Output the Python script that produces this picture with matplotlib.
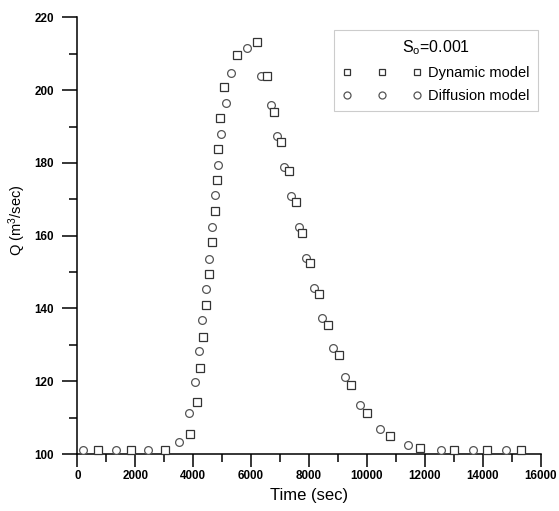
import matplotlib
matplotlib.use("Agg")
import matplotlib.pyplot as plt
from matplotlib.ticker import MultipleLocator

plt.rcParams['font.family'] = ['Liberation Sans', 'DejaVu Sans']
plt.rcParams['mathtext.default'] = 'regular'

# Dynamic wave model hydrograph
dyn_t = [703, 1841, 3014, 3903, 4145, 4248, 4324, 4438, 4541, 4662, 4738, 4828,
         4862, 4931, 5048, 5497, 6207, 6541, 6793, 7048, 7300, 7541, 7772, 8048,
         8334, 8655, 9024, 9448, 10014, 10783, 11841, 13000, 14152, 15310]
dyn_q = [101.1, 101.1, 101.0, 105.5, 114.2, 123.7, 132.3, 140.9, 149.5, 158.3,
         166.7, 175.2, 183.9, 192.3, 200.9, 209.8, 213.3, 203.8, 194.1, 185.8,
         177.8, 169.4, 160.7, 152.4, 144.0, 135.5, 127.2, 119.1, 111.4, 105.0,
         101.7, 101.0, 101.0, 101.0]

# Diffusion wave model hydrograph
dif_t = [186, 1324, 2455, 3507, 3862, 4059, 4197, 4310, 4428, 4541, 4634, 4748,
         4862, 4966, 5117, 5324, 5862, 6335, 6679, 6897, 7138, 7369, 7645, 7886,
         8162, 8462, 8828, 9255, 9759, 10448, 11414, 12541, 13679, 14807]
dif_q = [101.1, 101.1, 101.1, 103.4, 111.4, 119.8, 128.3, 136.8, 145.3, 153.7,
         162.4, 171.1, 179.5, 187.9, 196.5, 204.8, 211.5, 203.8, 195.9, 187.3,
         178.9, 170.8, 162.4, 153.9, 145.7, 137.3, 129.2, 121.2, 113.6, 106.9,
         102.6, 101.1, 101.1, 101.1]

x_ticks = [0, 2000, 4000, 6000, 8000, 10000, 12000, 14000, 16000]
y_ticks = [100, 120, 140, 160, 180, 200, 220]

fig = plt.figure(figsize=(5.59, 5.11), dpi=100)
ax = fig.add_axes([77.3 / 559, 57 / 511, 463.4 / 559, 436.5 / 511])

ax.plot(dif_t, dif_q, linestyle='none', marker='o', ms=5.6, mfc='white',
        mec='#555555', mew=0.9, label='Diffusion model', zorder=3, clip_on=False)
ax.plot(dyn_t, dyn_q, linestyle='none', marker='s', ms=5.3, mfc='white',
        mec='#333333', mew=0.9, label='Dynamic model', zorder=4, clip_on=False)

ax.set_xlim(0, 16000)
ax.set_ylim(100, 220)
ax.set_xticks(x_ticks)
ax.set_yticks(y_ticks)
ax.xaxis.set_minor_locator(MultipleLocator(1000))
ax.yaxis.set_minor_locator(MultipleLocator(10))

for s in ('top', 'right'):
    ax.spines[s].set_visible(False)
for s in ('left', 'bottom'):
    ax.spines[s].set_linewidth(1.1)

ax.tick_params(axis='both', which='major', direction='out', width=1.1,
               labelsize=8.4, colors='black')
ax.tick_params(axis='x', which='major', length=9.5, pad=2)
ax.tick_params(axis='y', which='major', length=11, pad=6)
ax.tick_params(axis='both', which='minor', direction='out', width=1.1, length=6)
for lab in ax.get_xticklabels() + ax.get_yticklabels():
    lab.set_fontweight('bold')

ax.set_xlabel('Time (sec)', fontsize=12)
ax.xaxis.set_label_coords(0.5, -(488 - 454) / 436.5)
ax.set_ylabel('Q (m$^3$/sec)', fontsize=10.5)
ax.yaxis.set_label_coords(-(77.3 - 28) / 463.4, (454 - 220) / 436.5)

handles, labels = ax.get_legend_handles_labels()
leg = ax.legend(handles[::-1], labels[::-1], title='S$_o$=0.001',
                loc='upper right', bbox_to_anchor=(0.994, 0.971),
                borderaxespad=0, numpoints=3, handlelength=5.4,
                handletextpad=0.5, fontsize=10.5, title_fontsize=11.5,
                fancybox=False, framealpha=1, edgecolor='#cccccc',
                labelspacing=0.62, borderpad=0.55, markerscale=0.9)
leg.get_frame().set_linewidth(0.8)

fig.savefig('out.png', dpi=100)
